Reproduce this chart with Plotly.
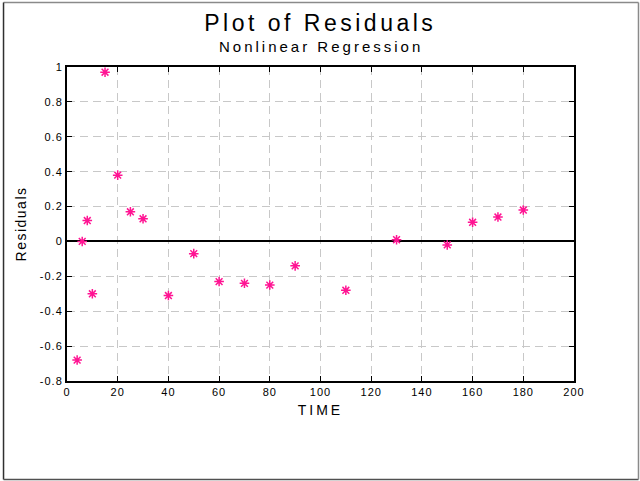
import plotly.graph_objects as go

time = [4, 6, 8, 10, 15, 20, 25, 30, 40, 50, 60, 70, 80, 90, 110, 130, 150, 160, 170, 180]
residuals = [-0.68, 0.0, 0.12, -0.30, 0.97, 0.38, 0.17, 0.13, -0.31, -0.07,
             -0.23, -0.24, -0.25, -0.14, -0.28, 0.01, -0.02, 0.11, 0.14, 0.18]

x_ticks = [0, 20, 40, 60, 80, 100, 120, 140, 160, 180, 200]
y_ticks = [-0.8, -0.6, -0.4, -0.2, 0, 0.2, 0.4, 0.6, 0.8, 1]
y_tick_text = ["-0.8", "-0.6", "-0.4", "-0.2", "0", "0.2", "0.4", "0.6", "0.8", "1"]

font = "Liberation Sans, Arial, sans-serif"

fig = go.Figure()
fig.add_trace(go.Scatter(
    x=time, y=residuals, mode="markers",
    marker=dict(symbol="asterisk-open", size=8, color="#FF1493",
                line=dict(color="#FF1493", width=1.5)),
    showlegend=False,
))

X0, X1, Y0, Y1 = -0.1252, 1.1272, -0.3137, 1.2054
frame = [
    dict(x0=X0, x1=X1, y0=Y1, y1=Y1, color="#8a8a8a"),
    dict(x0=X0, x1=X0, y0=Y0, y1=Y1, color="#303030"),
    dict(x0=X0, x1=X1, y0=Y0, y1=Y0, color="#505050"),
    dict(x0=X1, x1=X1, y0=Y0, y1=Y1, color="#8a8a8a"),
]

fig.update_layout(
    width=640, height=481,
    margin=dict(l=67, r=66, t=67, b=100),
    paper_bgcolor="white", plot_bgcolor="white",
    font=dict(family=font, color="black", size=11),
    xaxis=dict(
        range=[0, 200], tickvals=x_ticks, ticks="inside", ticklen=5,
        tickcolor="black", showline=True, linecolor="black", linewidth=2,
        mirror="ticks", showgrid=True, gridcolor="#c8c8c8", griddash="8px,5px",
        gridwidth=1, zeroline=False,
        title=dict(text="TIME", font=dict(size=14), standoff=8),
        tickfont=dict(size=11),
    ),
    yaxis=dict(
        range=[-0.8, 1], tickvals=y_ticks, ticktext=y_tick_text,
        ticks="inside", ticklen=5, tickcolor="black",
        showline=True, linecolor="black", linewidth=2, mirror="ticks",
        showgrid=True, gridcolor="#c8c8c8", griddash="8px,5px", gridwidth=1,
        zeroline=True, zerolinecolor="black", zerolinewidth=2,
        title=dict(text="Residuals", font=dict(size=14), standoff=14),
        tickfont=dict(size=11),
    ),
    annotations=[
        dict(text="Plot of Residuals", xref="paper", yref="paper", x=0.5, y=1.1401,
             xanchor="center", yanchor="middle", showarrow=False,
             font=dict(size=23, family=font)),
        dict(text="Nonlinear Regression", xref="paper", yref="paper", x=0.5, y=1.0637,
             xanchor="center", yanchor="middle", showarrow=False,
             font=dict(size=15, family=font)),
    ],
    shapes=[dict(type="line", xref="paper", yref="paper",
                 x0=f["x0"], x1=f["x1"], y0=f["y0"], y1=f["y1"],
                 line=dict(color=f["color"], width=1.5), layer="below")
            for f in frame],
)

post = """
document.body.style.margin='0';
document.body.style.overflow='hidden';
var a = document.querySelectorAll('.annotation-text');
if (a.length > 0) a[0].style.letterSpacing = '3.5px';
if (a.length > 1) a[1].style.letterSpacing = '3px';
document.querySelectorAll('.xtitle').forEach(function(t){t.style.letterSpacing='3px';});
document.querySelectorAll('.ytitle').forEach(function(t){t.style.letterSpacing='1.5px';});
document.querySelectorAll('.xtick text, .ytick text').forEach(function(t){t.style.letterSpacing='1px';});
"""

fig.write_html("out.html", config={"displayModeBar": False}, post_script=post)
